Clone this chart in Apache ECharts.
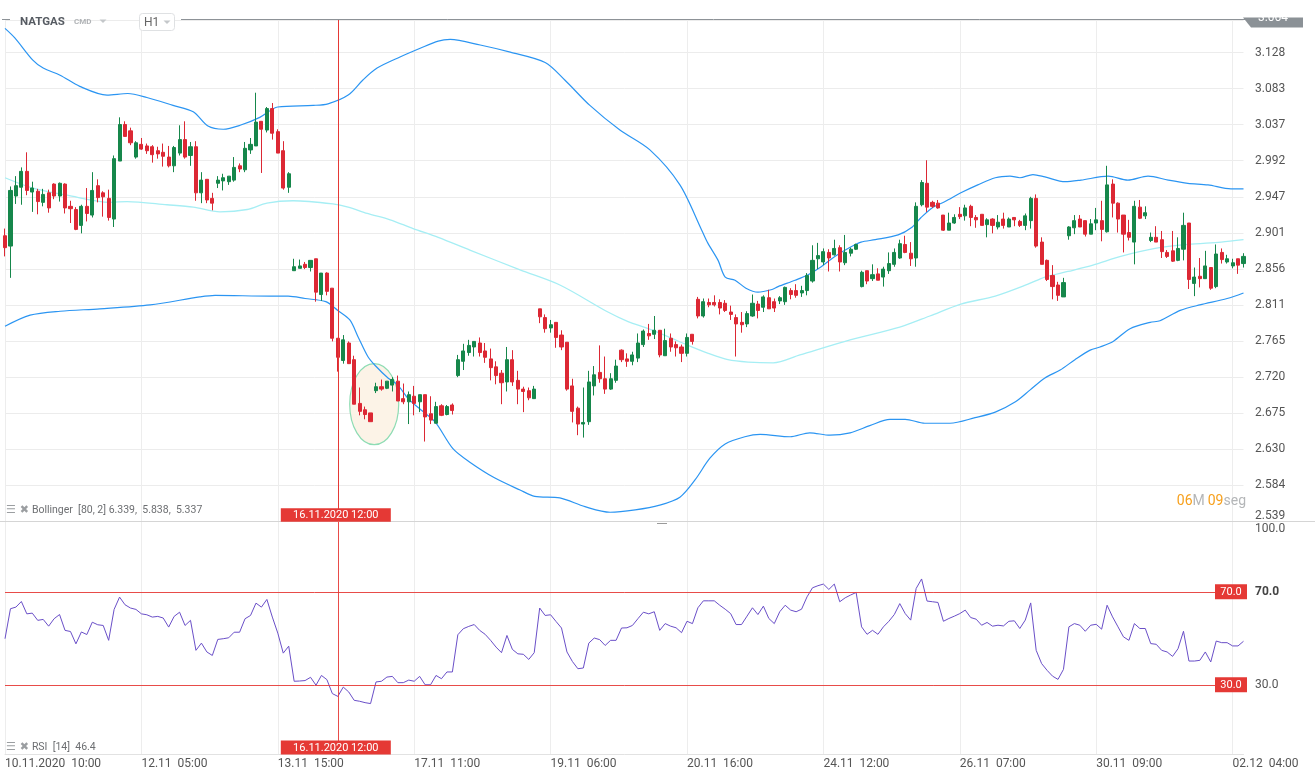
<!DOCTYPE html>
<html><head><meta charset="utf-8">
<script src="https://cdn.jsdelivr.net/npm/echarts@6/dist/echarts.min.js"></script>
<style>html,body{margin:0;padding:0;background:#fff}#c{width:1315px;height:780px}</style>
</head><body><div id="c"></div>
<script>
// OHLC per hourly bar: [open, close, low, high]
const candles = [
[2.898,2.883,2.872,2.907],[2.885,2.955,2.845,2.960],[2.948,2.961,2.938,2.973],[2.959,2.979,2.937,2.984],[2.979,2.955,2.949,3.003],
[2.953,2.958,2.928,2.966],[2.954,2.941,2.925,2.957],[2.940,2.950,2.935,2.957],[2.952,2.933,2.927,2.956],[2.963,2.948,2.944,2.964],
[2.948,2.964,2.941,2.965],[2.963,2.933,2.926,2.964],[2.935,2.932,2.914,2.942],[2.931,2.906,2.905,2.934],[2.911,2.935,2.901,2.937],
[2.935,2.926,2.916,2.958],[2.924,2.955,2.921,2.978],[2.961,2.946,2.940,2.969],[2.952,2.947,2.922,2.954],[2.945,2.921,2.917,2.956],
[2.919,2.995,2.909,2.999],[2.992,3.038,2.992,3.047],[3.038,3.023,3.023,3.042],[3.030,3.015,3.012,3.034],[2.997,3.015,2.995,3.017],
[3.013,3.007,3.006,3.021],[3.011,3.005,3.001,3.014],[3.010,3.000,2.990,3.012],[3.005,3.001,2.995,3.010],[3.003,2.998,2.985,3.014],
[2.997,2.986,2.984,3.011],[2.986,3.009,2.978,3.011],[3.002,3.019,2.999,3.037],[3.019,2.997,2.995,3.042],[2.999,3.010,2.986,3.016],
[3.010,2.952,2.942,3.017],[2.952,2.968,2.939,2.978],[2.969,2.943,2.939,2.969],[2.945,2.939,2.930,2.952],[2.964,2.968,2.958,2.973],
[2.967,2.971,2.955,2.976],[2.966,2.973,2.962,2.973],[2.968,2.984,2.966,2.997],[2.986,2.982,2.978,2.989],[2.981,3.008,2.978,3.016],
[3.006,3.013,3.001,3.021],[3.011,3.041,3.011,3.078],[3.042,3.032,2.977,3.042],[3.031,3.058,3.028,3.060],[3.058,3.027,3.019,3.065],
[3.029,3.002,3.002,3.032],[3.005,2.958,2.956,3.017],[2.959,2.976,2.952,2.978],[2.854,2.859,2.854,2.869],[2.857,2.860,2.857,2.868],
[2.862,2.858,2.856,2.865],[2.858,2.867,2.853,2.867],[2.869,2.827,2.815,2.869],[2.824,2.851,2.816,2.851],[2.851,2.828,2.823,2.852],
[2.832,2.769,2.765,2.832],[2.769,2.745,2.727,2.769],[2.741,2.767,2.737,2.773],[2.763,2.737,2.737,2.765],[2.742,2.686,2.686,2.747],
[2.687,2.677,2.672,2.707],[2.679,2.673,2.667,2.683],[2.675,2.664,2.664,2.675],[2.703,2.708,2.700,2.713],[2.708,2.705,2.703,2.717],
[2.706,2.715,2.705,2.715],[2.710,2.717,2.702,2.720],[2.715,2.690,2.690,2.722],[2.693,2.689,2.686,2.712],[2.689,2.698,2.661,2.702],
[2.696,2.687,2.672,2.709],[2.689,2.698,2.676,2.698],[2.698,2.670,2.639,2.698],[2.674,2.666,2.661,2.696],[2.662,2.683,2.662,2.689],
[2.684,2.672,2.671,2.686],[2.673,2.683,2.672,2.685],[2.685,2.678,2.673,2.687],[2.722,2.742,2.720,2.748],[2.740,2.753,2.729,2.762],
[2.751,2.760,2.747,2.767],[2.758,2.765,2.746,2.765],[2.763,2.751,2.746,2.770],[2.753,2.745,2.738,2.763],[2.743,2.732,2.716,2.756],
[2.733,2.722,2.711,2.740],[2.725,2.713,2.686,2.729],[2.714,2.742,2.702,2.758],[2.742,2.714,2.709,2.754],[2.716,2.705,2.686,2.728],
[2.705,2.702,2.676,2.708],[2.703,2.694,2.691,2.707],[2.693,2.705,2.693,2.709],[2.806,2.796,2.788,2.806],[2.795,2.781,2.776,2.799],
[2.782,2.786,2.776,2.792],[2.789,2.770,2.757,2.789],[2.773,2.758,2.754,2.779],[2.764,2.705,2.703,2.764],[2.709,2.677,2.663,2.718],
[2.681,2.661,2.647,2.683],[2.661,2.663,2.644,2.707],[2.664,2.714,2.660,2.728],[2.709,2.723,2.697,2.734],[2.726,2.718,2.713,2.760],
[2.718,2.705,2.699,2.746],[2.705,2.718,2.704,2.725],[2.716,2.734,2.713,2.742],[2.754,2.742,2.739,2.755],[2.743,2.740,2.733,2.750],
[2.740,2.748,2.735,2.752],[2.744,2.763,2.739,2.775],[2.761,2.778,2.758,2.780],[2.775,2.772,2.767,2.787],[2.774,2.779,2.768,2.797],
[2.779,2.748,2.745,2.779],[2.747,2.766,2.747,2.781],[2.769,2.758,2.752,2.775],[2.761,2.757,2.746,2.765],[2.758,2.750,2.739,2.761],
[2.750,2.770,2.746,2.775],[2.774,2.765,2.761,2.774],[2.818,2.797,2.794,2.821],[2.797,2.815,2.795,2.819],[2.814,2.811,2.808,2.819],
[2.814,2.811,2.809,2.823],[2.814,2.807,2.799,2.818],[2.813,2.804,2.802,2.817],[2.802,2.799,2.792,2.810],[2.795,2.787,2.746,2.799],
[2.789,2.786,2.776,2.802],[2.787,2.800,2.783,2.803],[2.797,2.813,2.796,2.824],[2.812,2.804,2.794,2.816],[2.808,2.821,2.802,2.823],
[2.820,2.806,2.806,2.830],[2.815,2.807,2.802,2.819],[2.816,2.820,2.812,2.822],[2.815,2.833,2.811,2.834],[2.829,2.824,2.818,2.832],
[2.829,2.823,2.820,2.837],[2.826,2.829,2.821,2.835],[2.829,2.848,2.823,2.851],[2.841,2.867,2.839,2.886],[2.869,2.873,2.856,2.889],
[2.865,2.878,2.861,2.882],[2.877,2.870,2.853,2.881],[2.874,2.882,2.873,2.893],[2.883,2.865,2.853,2.886],[2.864,2.877,2.861,2.899],
[2.876,2.881,2.872,2.883],[2.881,2.887,2.880,2.888],[2.834,2.852,2.833,2.854],[2.854,2.841,2.837,2.854],[2.844,2.849,2.841,2.862],
[2.850,2.842,2.842,2.857],[2.846,2.856,2.834,2.859],[2.854,2.863,2.850,2.877],[2.862,2.877,2.859,2.882],[2.870,2.888,2.869,2.893],
[2.887,2.877,2.876,2.898],[2.876,2.869,2.860,2.890],[2.870,2.935,2.859,2.940],[2.937,2.965,2.935,2.968],[2.964,2.934,2.928,2.993],
[2.940,2.935,2.933,2.942],[2.939,2.933,2.932,2.943],[2.924,2.905,2.904,2.924],[2.905,2.914,2.905,2.927],[2.914,2.921,2.913,2.925],
[2.925,2.922,2.919,2.934],[2.923,2.933,2.917,2.937],[2.935,2.921,2.910,2.937],[2.921,2.918,2.908,2.924],[2.925,2.911,2.911,2.925],
[2.912,2.918,2.896,2.920],[2.919,2.911,2.901,2.920],[2.909,2.915,2.906,2.924],[2.919,2.911,2.907,2.927],[2.909,2.919,2.909,2.921],
[2.921,2.918,2.910,2.921],[2.916,2.911,2.909,2.918],[2.911,2.923,2.905,2.926],[2.917,2.945,2.907,2.947],[2.945,2.885,2.883,2.950],
[2.890,2.862,2.862,2.896],[2.867,2.843,2.841,2.868],[2.848,2.834,2.818,2.861],[2.836,2.823,2.816,2.840],[2.821,2.839,2.821,2.845],
[2.898,2.909,2.893,2.910],[2.908,2.917,2.900,2.924],[2.919,2.909,2.909,2.924],[2.917,2.900,2.897,2.917],[2.900,2.913,2.900,2.919],
[2.914,2.918,2.905,2.933],[2.917,2.906,2.891,2.942],[2.903,2.962,2.902,2.986],[2.963,2.939,2.921,2.969],[2.939,2.919,2.902,2.940],
[2.924,2.900,2.877,2.924],[2.902,2.896,2.892,2.918],[2.890,2.935,2.862,2.942],[2.934,2.920,2.919,2.943],[2.923,2.927,2.919,2.935],
[2.892,2.896,2.890,2.902],[2.896,2.890,2.890,2.910],[2.893,2.878,2.870,2.904],[2.877,2.872,2.870,2.880],[2.879,2.866,2.865,2.904],
[2.867,2.882,2.866,2.896],[2.881,2.911,2.867,2.927],[2.914,2.843,2.831,2.914],[2.838,2.846,2.822,2.858],[2.847,2.844,2.833,2.870],
[2.844,2.860,2.844,2.879],[2.858,2.832,2.830,2.858],[2.834,2.875,2.832,2.887],[2.877,2.868,2.863,2.882],[2.865,2.869,2.863,2.874],
[2.860,2.864,2.857,2.869],[2.869,2.861,2.850,2.869],[2.863,2.872,2.858,2.876]
];

// Bollinger bands [80, 2]: [bar index, price]
const upperBand = [[0,3.159],[1.8,3.147],[5.1,3.119],[7,3.109],[10.1,3.100],[13.7,3.086],[18.7,3.075],[22.5,3.077],[26,3.072],[30.8,3.062],[34.5,3.054],[37.2,3.036],[40,3.032],[43.1,3.037],[46.7,3.047],[50,3.060],[56.5,3.062],[59.2,3.064],[62.9,3.075],[65.6,3.094],[68.2,3.109],[72.4,3.123],[76.1,3.134],[79.4,3.143],[81.6,3.145],[87.1,3.138],[92.6,3.129],[99,3.116],[102.6,3.094],[107.2,3.062],[112.7,3.031],[118.2,3.006],[123.7,2.962],[127.7,2.905],[128.8,2.889],[130.7,2.867],[132,2.846],[133.8,2.842],[135.8,2.832],[138,2.827],[140.4,2.830],[141.7,2.834],[144.8,2.842],[147.2,2.849],[149.6,2.859],[152.1,2.872],[154.5,2.882],[156.9,2.890],[159.5,2.893],[163.7,2.899],[166.1,2.908],[167.9,2.921],[170.1,2.934],[172.3,2.941],[175.2,2.952],[178.3,2.962],[181.5,2.971],[184.2,2.973],[186,2.971],[188.4,2.975],[190.6,2.972],[194.3,2.966],[197.2,2.968],[202.2,2.973],[205.8,2.968],[209.5,2.973],[213.2,2.968],[216.8,2.964],[220.5,2.962],[224.7,2.957],[227,2.957]];
const middleBand = [[0,2.971],[5.1,2.958],[11.4,2.949],[19.2,2.940],[22.4,2.941],[29.7,2.937],[34.5,2.934],[39.4,2.928],[44.4,2.931],[48,2.939],[52.8,2.942],[60.1,2.938],[62.9,2.934],[66.4,2.926],[70.6,2.918],[74.8,2.907],[79.4,2.896],[85.2,2.880],[94.4,2.855],[101.7,2.836],[110.5,2.802],[114.2,2.790],[117.9,2.781],[121.5,2.771],[125.2,2.760],[128.9,2.750],[132.5,2.742],[136.2,2.739],[140.8,2.738],[145.7,2.748],[154.9,2.767],[164,2.783],[169.5,2.797],[175.2,2.812],[181.5,2.822],[187.5,2.837],[190.6,2.846],[194.8,2.853],[199.4,2.861],[204.5,2.872],[210.8,2.882],[216.8,2.887],[222.9,2.890],[227,2.893]];
const lowerBand = [[0,2.784],[4.6,2.798],[10.1,2.803],[17.4,2.806],[26.6,2.811],[35.7,2.821],[38.5,2.823],[48.6,2.822],[51.9,2.822],[55,2.819],[58.8,2.815],[61,2.804],[63.2,2.792],[64.7,2.771],[66.5,2.746],[67.8,2.735],[70.2,2.719],[72,2.710],[73.9,2.693],[76.2,2.679],[78.8,2.664],[82.1,2.630],[85.2,2.613],[89.8,2.593],[94.4,2.578],[97.1,2.570],[101.7,2.568],[106.3,2.557],[110.9,2.550],[115.5,2.553],[120,2.559],[123.7,2.569],[126.5,2.591],[129.2,2.618],[132,2.636],[135.6,2.645],[138.4,2.648],[143.9,2.645],[147.5,2.650],[151.2,2.647],[154.9,2.650],[158.5,2.659],[162.2,2.667],[165,2.667],[168.6,2.662],[173.2,2.662],[177.8,2.669],[181.5,2.676],[185.2,2.689],[187.9,2.704],[190.6,2.719],[193.4,2.729],[196.1,2.742],[198.9,2.754],[200.7,2.758],[203.1,2.765],[206.2,2.781],[209.9,2.789],[211.7,2.791],[215.4,2.804],[219,2.811],[224,2.819],[227,2.826]];

// RSI [14] per bar
const rsi = [
49.8,62.7,63.4,65.8,60.5,60.8,57.7,58.1,55.2,58.4,
60.2,53.4,52.9,47.6,52.7,51.6,56.9,55.8,55.5,49.1,
62.4,67.7,64.4,63.0,62.4,60.5,60.1,59.1,59.4,58.7,
54.8,59.4,61.2,55.5,57.7,44.8,47.9,44.1,42.6,49.5,
49.8,50.2,52.6,52.6,58.4,59.8,65.1,63.4,66.7,59.1,
52.2,43.6,46.6,31.5,31.6,31.8,33.2,29.8,34.0,32.2,
26.2,25.0,29.0,26.9,23.3,22.9,22.3,21.9,31.2,31.5,
33.3,33.6,30.9,30.9,32.0,31.5,33.6,30.0,30.0,34.0,
32.6,35.5,35.5,51.5,54.1,55.1,55.9,53.4,51.7,49.1,
46.2,43.8,51.2,45.2,43.3,43.1,40.9,43.8,63.0,59.8,
60.1,57.2,54.4,44.1,40.0,36.9,37.2,47.9,50.1,49.4,
46.9,49.1,49.1,54.4,54.5,55.5,58.4,61.2,60.5,61.4,
53.4,56.3,55.2,54.5,52.4,57.3,56.3,63.1,66.1,66.1,
66.1,64.2,62.5,60.6,55.9,55.9,59.5,63.1,60.2,63.8,
58.5,56.3,61.4,64.2,62.1,61.4,62.5,67.8,71.7,72.6,
73.3,71.0,73.3,65.7,67.4,68.6,69.7,54.9,51.7,53.4,
51.7,54.9,57.3,60.2,64.9,60.6,57.8,71.4,75.5,66.0,
65.7,65.4,57.3,58.5,59.5,60.6,62.1,58.9,58.2,55.6,
56.8,55.2,55.6,55.3,57.3,57.5,54.2,57.8,65.2,44.8,
39.1,36.2,33.7,32.3,36.6,54.9,56.3,55.6,53.0,55.6,
56.0,53.9,64.2,59.2,54.9,50.6,49.1,56.3,54.2,54.2,
47.7,47.4,44.8,44.1,42.2,45.5,53.0,40.2,40.2,40.5,
44.1,39.8,48.8,48.1,48.1,46.7,46.7,48.7
];

const priceTicks = ['2.539','2.584','2.630','2.675','2.720','2.765','2.811','2.856','2.901','2.947','2.992','3.037','3.083','3.128'];
const timeLabels = ['10.11.2020  10:00','12.11  05:00','13.11  15:00','17.11  11:00','19.11  06:00','20.11  16:00','24.11  12:00','26.11  07:00','30.11  09:00','02.12  04:00'];
const labelEvery = 25;
const rsiLevels = [70, 30];
const rsiLevelText = ['70.0', '30.0'];
const crossIndex = 61;
const crossText = '16.11.2020 12:00';
const highlightCenter = [67.67, 2.686];

const categories = candles.map((_, i) => String(i));
const priceMin = 2.539;
const priceStep = priceMin / 56;
const priceMax = 3.1695;

const GREEN = '#16874b', RED = '#dc2834', BLUE = '#2b95f2', CYAN = '#a6eef4', PURPLE = '#6a4fc8', LRED = '#e53935';
const FONT = 'Roboto, "Noto Sans", sans-serif';

const option = {
  animation: false,
  backgroundColor: '#ffffff',
  textStyle: { fontFamily: FONT },
  grid: [
    { left: 5, right: 71.5, top: 20, height: 501 },
    { left: 5, right: 71.5, top: 522, height: 232.5 }
  ],
  xAxis: [
    { gridIndex: 0, type: 'category', data: categories, boundaryGap: false,
      axisLine: { show: false }, axisTick: { show: false }, axisLabel: { show: false },
      splitLine: { show: true, interval: labelEvery - 1, lineStyle: { color: '#ededed', width: 1 } } },
    { gridIndex: 0, type: 'value', min: 0, max: candles.length - 1, show: false },
    { gridIndex: 1, type: 'category', data: categories, boundaryGap: false,
      axisLine: { show: true, lineStyle: { color: '#e2e2e2' } }, axisTick: { show: false },
      axisLabel: { interval: labelEvery - 1, align: 'left', color: '#555', fontSize: 12, margin: 3,
        formatter: (v, i) => (i % labelEvery === 0 && timeLabels[i / labelEvery]) || '' },
      splitLine: { show: true, interval: labelEvery - 1, lineStyle: { color: '#ededed', width: 1 } } }
  ],
  yAxis: [
    { gridIndex: 0, type: 'value', position: 'right', min: priceMin, max: priceMax, interval: priceStep,
      axisLine: { show: false }, axisTick: { show: false },
      splitLine: { show: true, lineStyle: { color: '#ececec', width: 1 } },
      axisLabel: { showMaxLabel: false, margin: 11.5, color: '#555', fontSize: 12,
        formatter: v => {
          const k = Math.round((v - priceMin) / priceStep);
          if (k === 0) return '{b|' + priceTicks[0] + '}';
          return priceTicks[k] || '';
        },
        rich: { b: { padding: [0, 0, 10, 0], color: '#555', fontSize: 12 } } } },
    { gridIndex: 1, type: 'value', position: 'right', min: 0, max: 100, interval: 10,
      axisLine: { show: false }, axisTick: { show: false }, splitLine: { show: false },
      axisLabel: { margin: 11.5, color: '#555', fontSize: 12, showMaxLabel: true,
        formatter: v => v === 100 ? '{t|100.0}' : v === 70 ? '{k|70.0}' : v === 30 ? '30.0' : '',
        rich: { t: { padding: [14, 0, 0, 0], color: '#555', fontSize: 12 },
                k: { fontWeight: 'bold', color: '#444', fontSize: 12 } } } }
  ],
  series: [
    { type: 'candlestick', xAxisIndex: 0, yAxisIndex: 0, data: candles, barWidth: 3.6, clip: false, z: 3,
      itemStyle: { color: GREEN, color0: RED, borderColor: GREEN, borderColor0: RED, borderWidth: 1 },
      markLine: { silent: true, symbol: ['none', 'none'], animation: false, label: { show: false },
        lineStyle: { color: LRED, width: 1, type: 'solid' }, data: [{ xAxis: crossIndex }] } },
    { type: 'line', name: 'upper', xAxisIndex: 1, yAxisIndex: 0, data: upperBand, smooth: 0.3, showSymbol: false,
      lineStyle: { color: BLUE, width: 1.2 } },
    { type: 'line', name: 'middle', xAxisIndex: 1, yAxisIndex: 0, data: middleBand, smooth: 0.3, showSymbol: false,
      lineStyle: { color: CYAN, width: 1.3 } },
    { type: 'line', name: 'lower', xAxisIndex: 1, yAxisIndex: 0, data: lowerBand, smooth: 0.3, showSymbol: false,
      lineStyle: { color: BLUE, width: 1.2 } },
    { type: 'line', name: 'RSI', xAxisIndex: 2, yAxisIndex: 1, data: rsi, showSymbol: false,
      lineStyle: { color: PURPLE, width: 1 },
      markLine: { silent: true, symbol: ['none', 'none'], animation: false, label: { show: false },
        lineStyle: { color: LRED, width: 1, type: 'solid', opacity: 0.9 },
        data: [{ yAxis: rsiLevels[0] }, { yAxis: rsiLevels[1] }, { xAxis: crossIndex }] } }
  ]
};

const chart = echarts.init(document.getElementById('c'));
chart.setOption(option);

const crossX = chart.convertToPixel({ xAxisIndex: 0 }, crossIndex);
const ell = chart.convertToPixel({ xAxisIndex: 1, yAxisIndex: 0 }, highlightCenter);
const levelY = rsiLevels.map(v => chart.convertToPixel({ yAxisIndex: 1 }, v));

function text(x, y, str, st) {
  return { type: 'text', z: 20, x: x, y: y,
    style: Object.assign({ text: str, fill: '#555', font: '12px ' + FONT, textVerticalAlign: 'middle', verticalAlign: 'middle' }, st || {}) };
}
function tag(cx, cy, w, h, str) {
  return [
    { type: 'rect', z: 20, shape: { x: cx - w / 2, y: cy - h / 2, width: w, height: h }, style: { fill: LRED } },
    text(cx, cy + 0.5, str, { fill: '#fff', font: '11px ' + FONT, textAlign: 'center', align: 'center' })
  ];
}
const iconRich = { i: { fill: '#9b9ea1', font: 'bold 11px "DejaVu Sans", sans-serif' }, t: { fill: '#6d6f72', font: '10.5px ' + FONT } };

const graphics = [
  { type: 'ellipse', z: 1, shape: { cx: ell[0], cy: ell[1], rx: 24.5, ry: 40.5 },
    style: { fill: '#fcf3e7', stroke: '#8edcb4', lineWidth: 1.2 } },
  // top frame line and header
  { type: 'line', z: 20, shape: { x1: 2, y1: 19.5, x2: 10, y2: 19.5 }, style: { stroke: '#8d9297', lineWidth: 1 } },
  { type: 'line', z: 20, shape: { x1: 181, y1: 19.5, x2: 1246, y2: 19.5 }, style: { stroke: '#8d9297', lineWidth: 1 } },
  text(20, 22, 'NATGAS', { fill: '#565b62', font: 'bold 11.5px ' + FONT }),
  text(74, 22, 'CMD', { fill: '#b0b3b6', font: 'bold 8px ' + FONT }),
  { type: 'polygon', z: 20, shape: { points: [[99.5, 19.5], [106.5, 19.5], [103, 23]] }, style: { fill: '#c4c7ca' } },
  { type: 'rect', z: 20, shape: { x: 139.5, y: 13.5, width: 35, height: 17, r: 3 }, style: { fill: '#fff', stroke: '#dfe1e3', lineWidth: 1 } },
  text(144, 22.5, 'H1', { fill: '#666', font: '12px ' + FONT }),
  { type: 'polygon', z: 20, shape: { points: [[163.5, 20.5], [170.5, 20.5], [167, 24]] }, style: { fill: '#c4c7ca' } },
  { type: 'polygon', z: 20, shape: { points: [[1243, 17.5], [1303, 17.5], [1303, 27.5], [1251, 27.5]] }, style: { fill: '#8b9196' } },
  text(1273, 17.5, '3.064', { fill: '#fff', font: '12px ' + FONT, textAlign: 'center', align: 'center' }),
  // pane separator
  { type: 'line', z: 20, shape: { x1: 0, y1: 521.5, x2: 1315, y2: 521.5 }, style: { stroke: '#d5d5d5', lineWidth: 1 } },
  { type: 'line', z: 20, shape: { x1: 657, y1: 523.5, x2: 667, y2: 523.5 }, style: { stroke: '#9a9a9a', lineWidth: 1 } },
  // indicator captions
  text(6, 510, '{i|\u2630 \u2716} {t|Bollinger  [80, 2] 6.339,  5.838,  5.337}', { rich: iconRich }),
  text(6, 747, '{i|\u2630 \u2716} {t|RSI  [14]  46.4}', { rich: iconRich }),
  // countdown
  text(1246, 501, '{o|06}{g|M} {o|09}{g|seg}', { textAlign: 'right', align: 'right',
    rich: { o: { fill: '#f7a01c', font: '14px ' + FONT }, g: { fill: '#b4b6b8', font: '14px ' + FONT } } })
];
graphics.push(...tag(crossX - 2, 515, 110, 13.5, crossText));
graphics.push(...tag(crossX - 2, 747.5, 110, 14, crossText));
graphics.push(...tag(1231, levelY[0], 32, 15, rsiLevelText[0]));
graphics.push(...tag(1231, levelY[1], 32, 15, rsiLevelText[1]));

chart.setOption({ graphic: graphics });
</script>
</body></html>
